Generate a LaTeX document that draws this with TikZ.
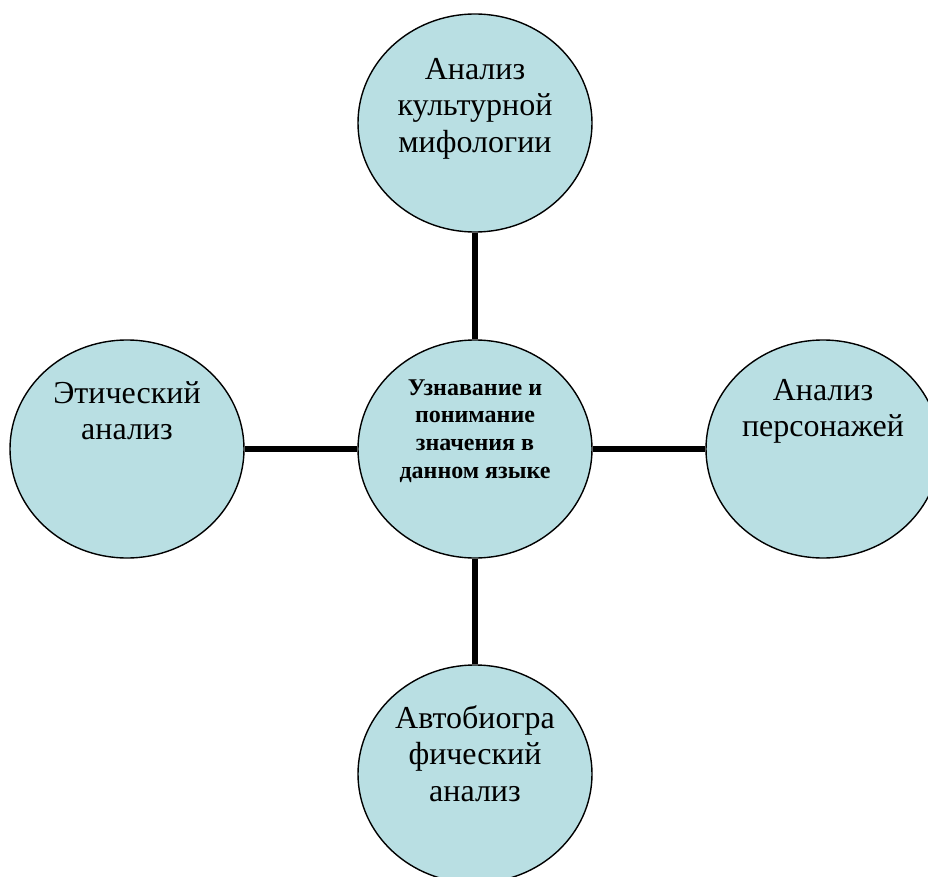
\documentclass[tikz,border=0pt]{standalone}
\usepackage{fontspec}
\setmainfont{Liberation Serif}
\usetikzlibrary{shapes.geometric}
\definecolor{bubblefill}{RGB}{185,223,227}
% invisible strut that fixes the height of a caption's first line
\newcommand\firstlinestrut{\rule{0pt}{1em}}
\tikzset{
  bubble/.style={ellipse, draw=black, line width=1.4pt, fill=bubblefill,
    minimum width=234pt, minimum height=218pt, inner sep=0pt},
  link/.style={line width=6pt, black},
  caption/.style={align=center, inner sep=0pt, anchor=north,
    font=\fontsize{32}{36.5}\selectfont},
  hubcaption/.style={align=center, inner sep=0pt, anchor=north,
    font=\bfseries\fontsize{24}{27.7}\selectfont},
}
\begin{document}
\begin{tikzpicture}[x=1pt,y=-1pt]
\useasboundingbox (0,0) rectangle (928,877);

% bubbles
\node[bubble] (hub)    at (475,449) {};
\node[bubble] (top)    at (475,123) {};
\node[bubble] (left)   at (127,449) {};
\node[bubble] (right)  at (823,449) {};
\node[bubble] (bottom) at (475,774) {};

% spokes
\draw[link] (top) -- (hub);
\draw[link] (left) -- (hub);
\draw[link] (hub) -- (right);
\draw[link] (hub) -- (bottom);

% captions
\node[hubcaption] (hubtext) at (475,371)
  {\firstlinestrut Узнавание и\\понимание\\значения в\\данном языке};
\node[caption] (toptext) at (475,47)
  {\firstlinestrut Анализ\\культурной\\мифологии};
\node[caption] (lefttext) at (127,371)
  {\firstlinestrut Этический\\анализ};
\node[caption] (righttext) at (823,368)
  {\firstlinestrut Анализ\\персонажей};
\node[caption] (bottomtext) at (475,696)
  {\firstlinestrut Автобиогра\\фический\\анализ};
\end{tikzpicture}
\end{document}
